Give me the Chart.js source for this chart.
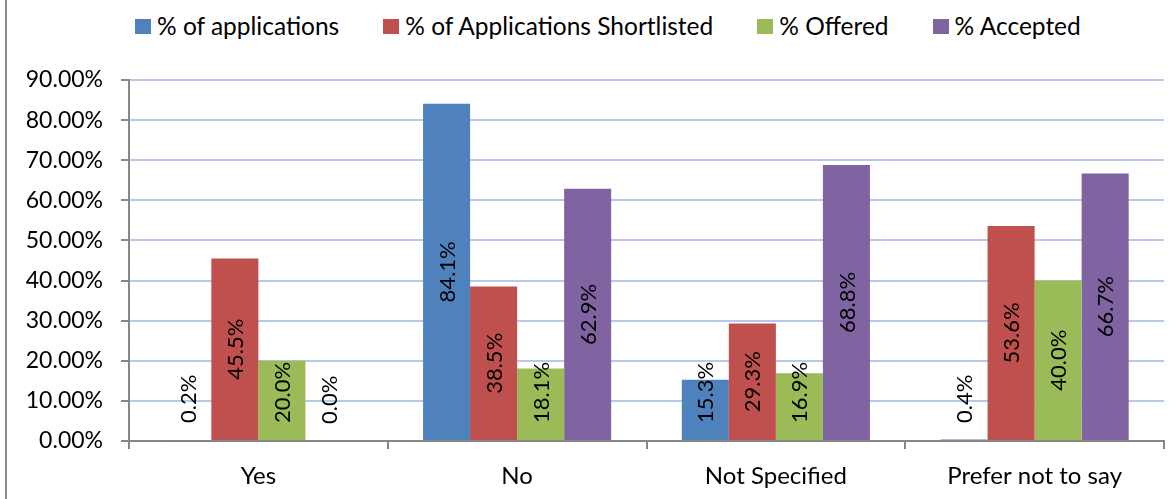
<!DOCTYPE html>
<html>
<head>
<meta charset="utf-8">
<script src="https://cdn.jsdelivr.net/npm/chart.js@4.4.1/dist/chart.umd.min.js"></script>
<style>
  body { margin: 0; background: #fff; }
  #wrap { position: relative; width: 1176px; height: 499px; overflow: hidden; background: #fff; }
  #frame { position: absolute; left: 5px; top: 0; bottom: 0; width: 2px; background: #8a8a8a; }
  #legend { position: absolute; left: 135px; top: 12px; height: 28px; display: flex; gap: 44px;
            font-family: Lato, sans-serif; font-size: 24.5px; line-height: 28px; color: #000; }
  #legend .item { display: flex; align-items: center; white-space: nowrap; }
  #legend .box { width: 16px; height: 15px; margin-right: 6px; }
  canvas { position: absolute; left: 0; top: 0; }
</style>
</head>
<body>
<div id="wrap">
  <div id="frame"></div>
  <div id="legend"></div>
  <canvas id="barChart" width="1176" height="499"></canvas>
</div>
<script>
const categories = ['Yes', 'No', 'Not Specified', 'Prefer not to say'];
const seriesNames = ['% of applications', '% of Applications Shortlisted', '% Offered', '% Accepted'];
const seriesColors = ['#4F81BD', '#C0504D', '#9BBB59', '#8064A2'];

const applications = [0.2, 84.1, 15.3, 0.4];
const shortlisted = [45.5, 38.5, 29.3, 53.6];
const offered = [20.0, 18.1, 16.9, 40.0];
const accepted = [0.0, 62.9, 68.8, 66.7];

const yTicks = [0, 10, 20, 30, 40, 50, 60, 70, 80, 90];

const seriesValues = [applications, shortlisted, offered, accepted];

// legend (plain html, the Chart.js one can't space items like the original)
const legendEl = document.getElementById('legend');
seriesNames.forEach((name, i) => {
  const item = document.createElement('div');
  item.className = 'item';
  const box = document.createElement('span');
  box.className = 'box';
  box.style.background = seriesColors[i];
  const label = document.createElement('span');
  label.textContent = name;
  item.appendChild(box);
  item.appendChild(label);
  legendEl.appendChild(item);
});

// vertical value labels, centred in the bar but kept off the axis
const barLabels = {
  id: 'barLabels',
  afterDatasetsDraw(chart) {
    const ctx = chart.ctx;
    ctx.save();
    ctx.font = '22px Lato';
    ctx.fillStyle = '#000';
    ctx.textAlign = 'center';
    ctx.textBaseline = 'middle';
    chart.data.datasets.forEach((ds, i) => {
      chart.getDatasetMeta(i).data.forEach((bar, j) => {
        const text = ds.data[j].toFixed(1) + '%';
        const w = ctx.measureText(text).width;
        const cy = Math.min((bar.y + bar.base) / 2, bar.base - 17 - w / 2);
        ctx.save();
        ctx.translate(bar.x + 1, cy);
        ctx.rotate(-Math.PI / 2);
        ctx.fillText(text, 0, 0);
        ctx.restore();
      });
    });
    ctx.restore();
  }
};

const ctx = document.getElementById('barChart').getContext('2d');

new Chart(ctx, {
  type: 'bar',
  data: {
    labels: categories,
    datasets: seriesNames.map((name, i) => ({
      label: name,
      data: seriesValues[i],
      backgroundColor: seriesColors[i],
      categoryPercentage: 0.727,
      barPercentage: 1.0
    }))
  },
  options: {
    responsive: false,
    animation: false,
    layout: { padding: { top: 80, right: 12, left: 0, bottom: 0 } },
    plugins: {
      legend: { display: false },
      tooltip: { enabled: false }
    },
    scales: {
      x: {
        grid: {
          drawOnChartArea: false,
          drawTicks: true,
          tickLength: 8,
          tickColor: '#868686',
          lineWidth: 2
        },
        border: { display: true, color: '#868686', width: 2 },
        ticks: {
          color: '#000',
          font: { family: 'Lato', size: 24 },
          padding: 13,
          maxRotation: 0
        },
        afterFit: s => { s.height = 58; }
      },
      y: {
        min: 0,
        max: 90,
        afterBuildTicks: s => { s.ticks = yTicks.map(v => ({ value: v })); },
        grid: {
          color: '#b6c9ea',
          lineWidth: 2,
          tickLength: 8,
          tickColor: '#868686'
        },
        border: { display: true, color: '#868686', width: 2 },
        ticks: {
          color: '#000',
          font: { family: 'Lato', size: 23 },
          padding: 18,
          callback: v => v.toFixed(2) + '%'
        },
        afterFit: s => { s.width = 129; }
      }
    }
  },
  plugins: [barLabels]
});
</script>
</body>
</html>
